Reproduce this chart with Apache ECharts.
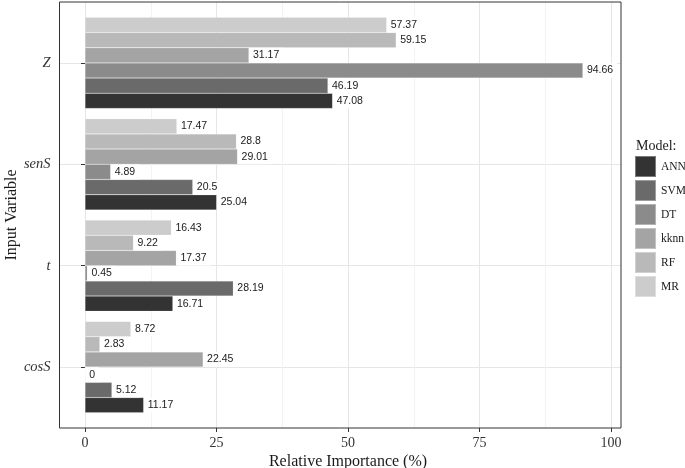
<!DOCTYPE html>
<html><head><meta charset="utf-8">
<script src="https://cdn.jsdelivr.net/npm/echarts@6/dist/echarts.min.js"></script>
<style>html,body{margin:0;padding:0;background:#fff}#c{width:685px;height:468px}</style>
</head><body><div id="c"></div>
<script>
const categories = ['cosS', 't', 'senS', 'Z'];
const models = ['ANN', 'SVM', 'DT', 'kknn', 'RF', 'MR'];
const ANN  = [11.17, 16.71, 25.04, 47.08];
const SVM  = [5.12, 28.19, 20.5, 46.19];
const DT   = [0, 0.45, 4.89, 94.66];
const kknn = [22.45, 17.37, 29.01, 31.17];
const RF   = [2.83, 9.22, 28.8, 59.15];
const MR   = [8.72, 16.43, 17.47, 57.37];
const xTickStep = 25;
const xMax = 100;

const seriesValues = [ANN, SVM, DT, kknn, RF, MR];
const colors = ['#333333', '#6a6a6a', '#8b8b8b', '#a4a4a4', '#b9b9b9', '#cccccc'];
const serif = 'Liberation Serif';
const sans = 'Liberation Sans';

// ECharts places the first series of a horizontal group at the top; ANN must be at the bottom.
const order = models.map((m, i) => i).reverse();

const chart = echarts.init(document.getElementById('c'), null, {renderer: 'canvas'});
chart.setOption({
  animation: false,
  backgroundColor: '#ffffff',
  title: {
    text: 'Model:', left: 636, top: 139, padding: 0,
    textStyle: {fontFamily: serif, fontSize: 14, fontWeight: 'normal', color: '#1a1a1a'}
  },
  legend: {
    data: models, orient: 'vertical', left: 634, top: 155,
    itemWidth: 21, itemHeight: 21, itemGap: 1, icon: 'rect', padding: 0,
    textStyle: {fontFamily: serif, fontSize: 11.5, color: '#1a1a1a'}
  },
  grid: [
    {left: 59.5, top: 2, width: 561.5, height: 426, show: true, borderColor: '#333', borderWidth: 1, backgroundColor: 'transparent', z: 5, outerBoundsMode: 'none', containLabel: false},
    {left: 85, top: 2, width: 526, height: 426, outerBoundsMode: 'none', containLabel: false},
    {left: 59.5, top: 12.2, width: 561.5, height: 405.6, outerBoundsMode: 'none', containLabel: false}
  ],
  xAxis: [
    {gridIndex: 0, type: 'value', show: false, min: 0, max: 1},
    {gridIndex: 1, type: 'value', min: 0, max: xMax, interval: xTickStep,
      axisLine: {show: false},
      axisTick: {show: true, length: 4, lineStyle: {color: '#333'}},
      axisLabel: {fontFamily: serif, fontSize: 14, color: '#333', margin: 8},
      splitLine: {show: true, lineStyle: {color: '#e6e6e6', width: 1}},
      minorTick: {show: false, splitNumber: 2},
      minorSplitLine: {show: true, lineStyle: {color: '#f3f3f3', width: 1}},
      name: 'Relative Importance (%)', nameLocation: 'middle', nameGap: 26, nameMoveOverlap: false,
      nameTextStyle: {fontFamily: serif, fontSize: 16, color: '#1a1a1a'}
    },
    {gridIndex: 2, type: 'value', show: false, min: -4.85, max: 101.9}
  ],
  yAxis: [
    {gridIndex: 0, type: 'value', show: false, min: 0, max: 1},
    {gridIndex: 1, type: 'value', show: false, min: 0, max: 1},
    {gridIndex: 2, type: 'category', data: categories,
      axisLine: {show: false},
      axisTick: {show: true, alignWithLabel: true, length: 4, lineStyle: {color: '#333'}},
      axisLabel: {fontFamily: serif, fontStyle: 'italic', fontSize: 14.5, color: '#333', margin: 9},
      splitLine: {show: true, alignWithLabel: true, lineStyle: {color: '#e6e6e6', width: 1}},
      name: 'Input Variable', nameLocation: 'middle', nameGap: 40, nameMoveOverlap: false,
      nameTextStyle: {fontFamily: serif, fontSize: 16, color: '#1a1a1a'}
    }
  ],
  series: order.map(i => ({
    name: models[i], type: 'bar', xAxisIndex: 2, yAxisIndex: 2,
    data: seriesValues[i],
    barGap: '0%', barCategoryGap: '10%',
    itemStyle: {color: colors[i], borderColor: 'rgba(255,255,255,0.35)', borderWidth: 0.5},
    label: {
      show: true, position: 'right', distance: 0, formatter: '{c}',
      fontFamily: sans, fontSize: 10.5, color: '#1a1a1a',
      backgroundColor: '#ffffff', padding: [1, 4, 1, 4], lineHeight: 13
    }
  }))
});
</script></body></html>
